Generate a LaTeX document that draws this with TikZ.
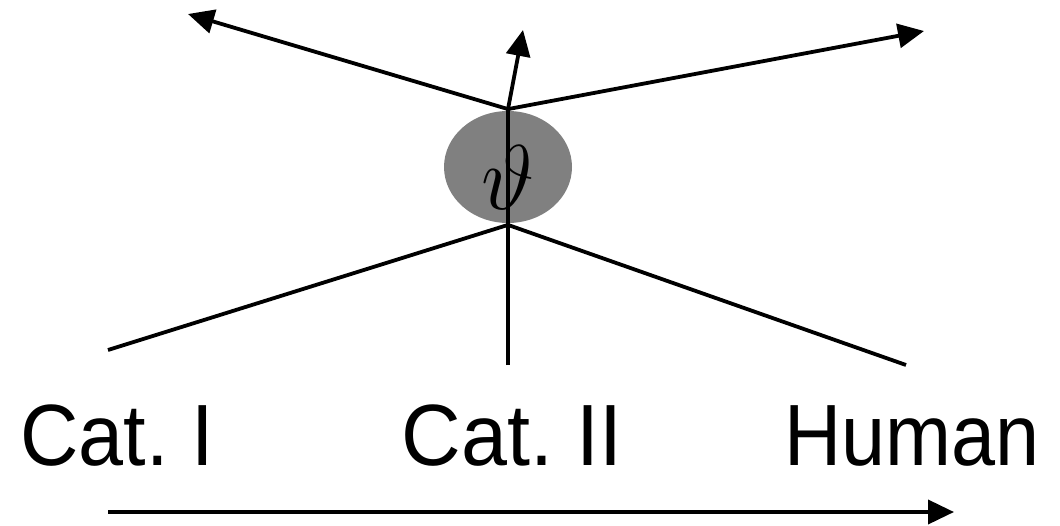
\RequirePackage{fix-cm}
\documentclass[tikz,border=0pt]{standalone}
\usepackage{fontspec}
\setmainfont{Liberation Sans}
\usetikzlibrary{arrows.meta, shapes.geometric}

\begin{document}
\begin{tikzpicture}[
    x=1pt, y=-1pt,
    line width=3.8pt,
    >={Triangle[length=26pt, width=24pt]},
    param/.style={ellipse, fill=gray, minimum width=128pt, minimum height=112pt, inner sep=0pt, font=\fontsize{92}{92}\selectfont},
    catname/.style={anchor=base, inner sep=0pt, font=\fontsize{87}{90}\selectfont},
]
    \useasboundingbox (0,0) rectangle (1060,525);

    \node[param] (theta) at (508,167) {\raisebox{-42pt}[0pt][0pt]{$\vartheta$}};

    % free ends of the lines
    \coordinate (endI) at (108,350);
    \coordinate (endII) at (508,365);
    \coordinate (endH) at (906,365);
    \coordinate (tipL) at (188,14);
    \coordinate (tipM) at (523,30);
    \coordinate (tipR) at (924,31);

    \draw (endI) -- (theta.south);
    \draw (endH) -- (theta.south);
    \draw (endII) -- (theta.north);
    \draw[->] (theta.north) -- (tipL);
    \draw[->] (theta.north) -- (tipM);
    \draw[->] (theta.north) -- (tipR);

    \node[catname] (catI) at (117,465) {\scalebox{0.93}[1]{Cat.~I}};
    \node[catname] (catII) at (512,465) {\scalebox{0.95}[1]{Cat.~II}};
    \node[catname] (human) at (912,465) {\scalebox{0.91}[1]{Human}};

    \coordinate (scaleL) at (108,512);
    \coordinate (scaleR) at (954,512);
    \draw[->] (scaleL) -- (scaleR);
\end{tikzpicture}
\end{document}
